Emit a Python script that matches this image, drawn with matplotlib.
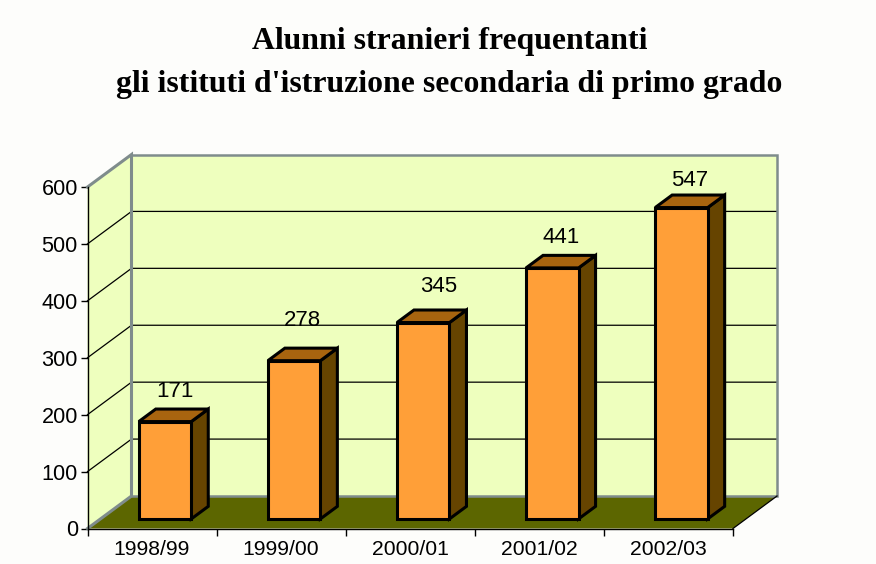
import matplotlib
matplotlib.use('Agg')
import matplotlib.pyplot as plt
from matplotlib.patches import Polygon

# data
years = ['1998/99', '1999/00', '2000/01', '2001/02', '2002/03']
alunni = [171, 278, 345, 441, 547]
y_ticks = [0, 100, 200, 300, 400, 500, 600]

title = "Alunni stranieri frequentanti\ngli istituti d'istruzione secondaria di primo grado"

# colours
bg = '#FDFDFB'
wall = '#EEFFBE'
floor = '#5C6600'
edge_grey = '#7F8C8C'
front = '#FF9F38'
top = '#A8640F'
side = '#664400'

# depth of the fake 3d box, in data units
DX = 44 / 129.1
DY = 32.5 / 0.5692
W = 876
H = 564


def pt(x, y, d=0.0):
    return (x + d * DX, y + d * DY)


fig = plt.figure(figsize=(8.76, 5.64), dpi=100, facecolor=bg)
ax = fig.add_axes([87.5 / W, (H - 528.5) / H, 645.5 / W, 341.5 / H])
ax.set_xlim(0, 5)
ax.set_ylim(0, 600)
ax.patch.set_visible(False)
n = len(years)

# walls and floor
ax.add_patch(Polygon([pt(0, 0, 1), pt(n, 0, 1), pt(n, 600, 1), pt(0, 600, 1)],
                     fc=wall, ec='none', clip_on=False, zorder=1))
ax.add_patch(Polygon([pt(0, 0), pt(0, 0, 1), pt(0, 600, 1), pt(0, 600)],
                     fc=wall, ec='none', clip_on=False, zorder=1))
ax.add_patch(Polygon([pt(0, 0), pt(n, 0), pt(n, 0, 1), pt(0, 0, 1)],
                     fc=floor, ec='none', clip_on=False, zorder=1))

# gridlines
for v in y_ticks[1:-1]:
    xs, ys = zip(pt(0, v), pt(0, v, 1), pt(n, v, 1))
    ax.plot(xs, ys, color='black', lw=0.9, clip_on=False, zorder=2)

# box edges
xs, ys = zip(pt(0, 0), pt(0, 0, 1), pt(0, 600, 1), pt(0, 600))
ax.plot(xs, ys, color=edge_grey, lw=2.2, clip_on=False, zorder=3, solid_joinstyle='miter')
xs, ys = zip(pt(0, 600, 1), pt(n, 600, 1), pt(n, 0, 1), pt(0, 0, 1))
ax.plot(xs, ys, color=edge_grey, lw=1.8, clip_on=False, zorder=3, solid_joinstyle='miter')
xs, ys = zip(pt(n, 0), pt(n, 0, 1))
ax.plot(xs, ys, color='black', lw=0.9, clip_on=False, zorder=3)

# bars
bar_w = 52.5 / 129.1
d0 = 0.295
d1 = d0 + 0.386
lift = [18, 28, 24, 18, 15]  # label gap above the bar, px
shift = [-7, -9, -2, -8, -9]  # label nudge sideways, px
for i, v in enumerate(alunni):
    x0 = i + 0.5 - bar_w / 2
    x1 = x0 + bar_w
    style = dict(ec='black', lw=2.2, joinstyle='miter', clip_on=False, zorder=4)
    ax.add_patch(Polygon([pt(x1, 0, d0), pt(x1, 0, d1), pt(x1, v, d1), pt(x1, v, d0)], fc=side, **style))
    ax.add_patch(Polygon([pt(x0, v, d0), pt(x1, v, d0), pt(x1, v, d1), pt(x0, v, d1)], fc=top, **style))
    ax.add_patch(Polygon([pt(x0, 0, d0), pt(x1, 0, d0), pt(x1, v, d0), pt(x0, v, d0)], fc=front, **style))
    lx, ly = pt((x0 + x1) / 2 + shift[i] / 129.1, v + lift[i] / 0.5692, d1)
    ax.text(lx, ly, str(v), ha='center', va='center', fontsize=16,
            family='Liberation Sans', color='black', zorder=5)

# axes
for s in ['top', 'right']:
    ax.spines[s].set_visible(False)
for s in ['left', 'bottom']:
    ax.spines[s].set_linewidth(1.0)
    ax.spines[s].set_zorder(6)
ax.set_yticks(y_ticks)
ax.set_xticks(range(n + 1))
ax.set_xticklabels([])
ax.set_xticks([i + 0.5 for i in range(n)], labels=years, minor=True)
ax.tick_params(axis='x', which='major', length=5, width=1, direction='out')
ax.tick_params(axis='x', which='minor', length=0, pad=8)
ax.tick_params(axis='y', length=5, width=1, direction='out', pad=2)
for lab in ax.get_yticklabels():
    lab.set_family('Liberation Sans')
    lab.set_fontsize(15.6)
for lab in ax.get_xticklabels(minor=True):
    lab.set_family('Liberation Sans')
    lab.set_fontsize(15.2)

fig.text(449.5 / W, 1 - 63 / H, title, ha='center', va='center', fontsize=22.85,
         family='Liberation Serif', fontweight='bold', linespacing=1.62)

fig.savefig('out.png', dpi=100, facecolor=bg)
